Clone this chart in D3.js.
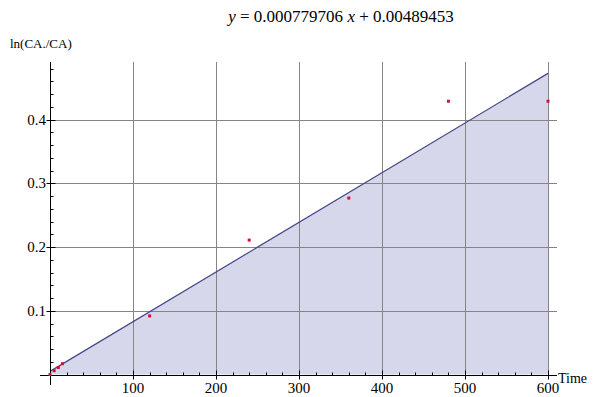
<!DOCTYPE html>
<html>
<head>
<meta charset="utf-8">
<script src="https://cdn.jsdelivr.net/npm/d3@7"></script>
<style>
  body { margin: 0; background: #fff; }
  svg { display: block; font-family: "Liberation Serif", "DejaVu Serif", serif; }
</style>
</head>
<body>
<div id="chart"></div>
<script>
// datos
var times = [0, 5, 10, 15, 120, 240, 360, 480, 600];
var values = [0, 0.006, 0.011, 0.017, 0.092, 0.211, 0.277, 0.429, 0.429];
var slope = 0.000779706, intercept = 0.00489453;
var xTicks = [100, 200, 300, 400, 500, 600];
var yTicks = [0.1, 0.2, 0.3, 0.4];
var titulo = "0.000779706";
var tituloB = "0.00489453";

var w = 606, h = 397;
var svg = d3.select("#chart").append("svg")
    .attr("width", w).attr("height", h);

// escalas
var x = d3.scaleLinear().domain([0, 600]).range([50, 548]);
var y = d3.scaleLinear().domain([0, 0.1]).range([374.5, 310.8]);
var yTop = 62, xRight = 557;

var fitLine = function(t) { return slope * t + intercept; };
var lineData = [0, 600];

// area bajo la recta
svg.append("path")
    .datum(lineData)
    .attr("d", d3.area()
        .x(function(d) { return x(d); })
        .y0(y(0))
        .y1(function(d) { return y(fitLine(d)); }))
    .attr("fill", "#d7d7eb");

// rejilla
var grid = svg.append("g").attr("stroke", "#858585").attr("stroke-width", 1);
grid.selectAll(".vg").data(xTicks).enter().append("line")
    .attr("x1", function(d) { return Math.round(x(d)) + 0.5; })
    .attr("x2", function(d) { return Math.round(x(d)) + 0.5; })
    .attr("y1", yTop).attr("y2", y(0));
grid.selectAll(".hg").data(yTicks).enter().append("line")
    .attr("y1", function(d) { return Math.round(y(d)) + 0.5; })
    .attr("y2", function(d) { return Math.round(y(d)) + 0.5; })
    .attr("x1", x(0)).attr("x2", xRight);

// recta ajustada
svg.append("path")
    .datum(lineData)
    .attr("d", d3.line()
        .x(function(d) { return x(d); })
        .y(function(d) { return y(fitLine(d)); }))
    .attr("fill", "none")
    .attr("stroke", "#45458a")
    .attr("stroke-width", 1.2);

// ejes
var ax = svg.append("g").attr("stroke", "#000").attr("stroke-width", 1);
var y0 = Math.round(y(0)) + 0.5, x0 = Math.round(x(0)) + 0.5;
ax.append("line").attr("x1", 40).attr("x2", xRight).attr("y1", y0).attr("y2", y0);
ax.append("line").attr("x1", x0).attr("x2", x0).attr("y1", 385).attr("y2", yTop);

// marcas menores
var xMinor = d3.range(20, 601, 20);
ax.selectAll(".xm").data(xMinor).enter().append("line")
    .attr("x1", function(d) { return Math.round(x(d)) + 0.5; })
    .attr("x2", function(d) { return Math.round(x(d)) + 0.5; })
    .attr("y1", y0).attr("y2", function(d) { return d % 100 === 0 ? y0 - 5 : y0 - 3; });
var yMinor = d3.range(0.02, 0.481, 0.02);
ax.selectAll(".ym").data(yMinor).enter().append("line")
    .attr("y1", function(d) { return Math.round(y(d)) + 0.5; })
    .attr("y2", function(d) { return Math.round(y(d)) + 0.5; })
    .attr("x1", x0).attr("x2", function(d) { return Math.abs(d * 10 - Math.round(d * 10)) < 1e-6 ? x0 + 5 : x0 + 3; });
ax.selectAll(".yM").data(yTicks).enter().append("line")
    .attr("y1", function(d) { return Math.round(y(d)) + 0.5; })
    .attr("y2", function(d) { return Math.round(y(d)) + 0.5; })
    .attr("x1", x0 - 4).attr("x2", x0);
ax.selectAll(".xM").data(xTicks).enter().append("line")
    .attr("x1", function(d) { return Math.round(x(d)) + 0.5; })
    .attr("x2", function(d) { return Math.round(x(d)) + 0.5; })
    .attr("y1", y0).attr("y2", y0 + 4);

// etiquetas
svg.selectAll(".xl").data(xTicks).enter().append("text")
    .attr("x", function(d) { return x(d); })
    .attr("y", 393)
    .attr("text-anchor", "middle")
    .attr("font-size", 15)
    .text(function(d) { return d; });
svg.selectAll(".yl").data(yTicks).enter().append("text")
    .attr("x", 46)
    .attr("y", function(d) { return y(d) + 5; })
    .attr("text-anchor", "end")
    .attr("font-size", 15)
    .text(function(d) { return d3.format(".1f")(d); });

svg.append("text").attr("x", 558).attr("y", 383).attr("font-size", 14).text("Time");
svg.append("text").attr("x", 10).attr("y", 48).attr("font-size", 13).text("ln(CA./CA)");

var t = svg.append("text").attr("x", 341).attr("y", 22)
    .attr("text-anchor", "middle").attr("font-size", 17);
t.append("tspan").attr("font-style", "italic").text("y");
t.append("tspan").text(" = " + titulo + " ");
t.append("tspan").attr("font-style", "italic").text("x");
t.append("tspan").text(" + " + tituloB);

// puntos
svg.selectAll(".pt").data(times).enter().append("rect")
    .attr("x", function(d) { return x(d) - 1.5; })
    .attr("y", function(d, i) { return y(values[i]) - 1.5; })
    .attr("width", 3).attr("height", 3)
    .attr("fill", "#d0103a");
</script>
</body>
</html>
